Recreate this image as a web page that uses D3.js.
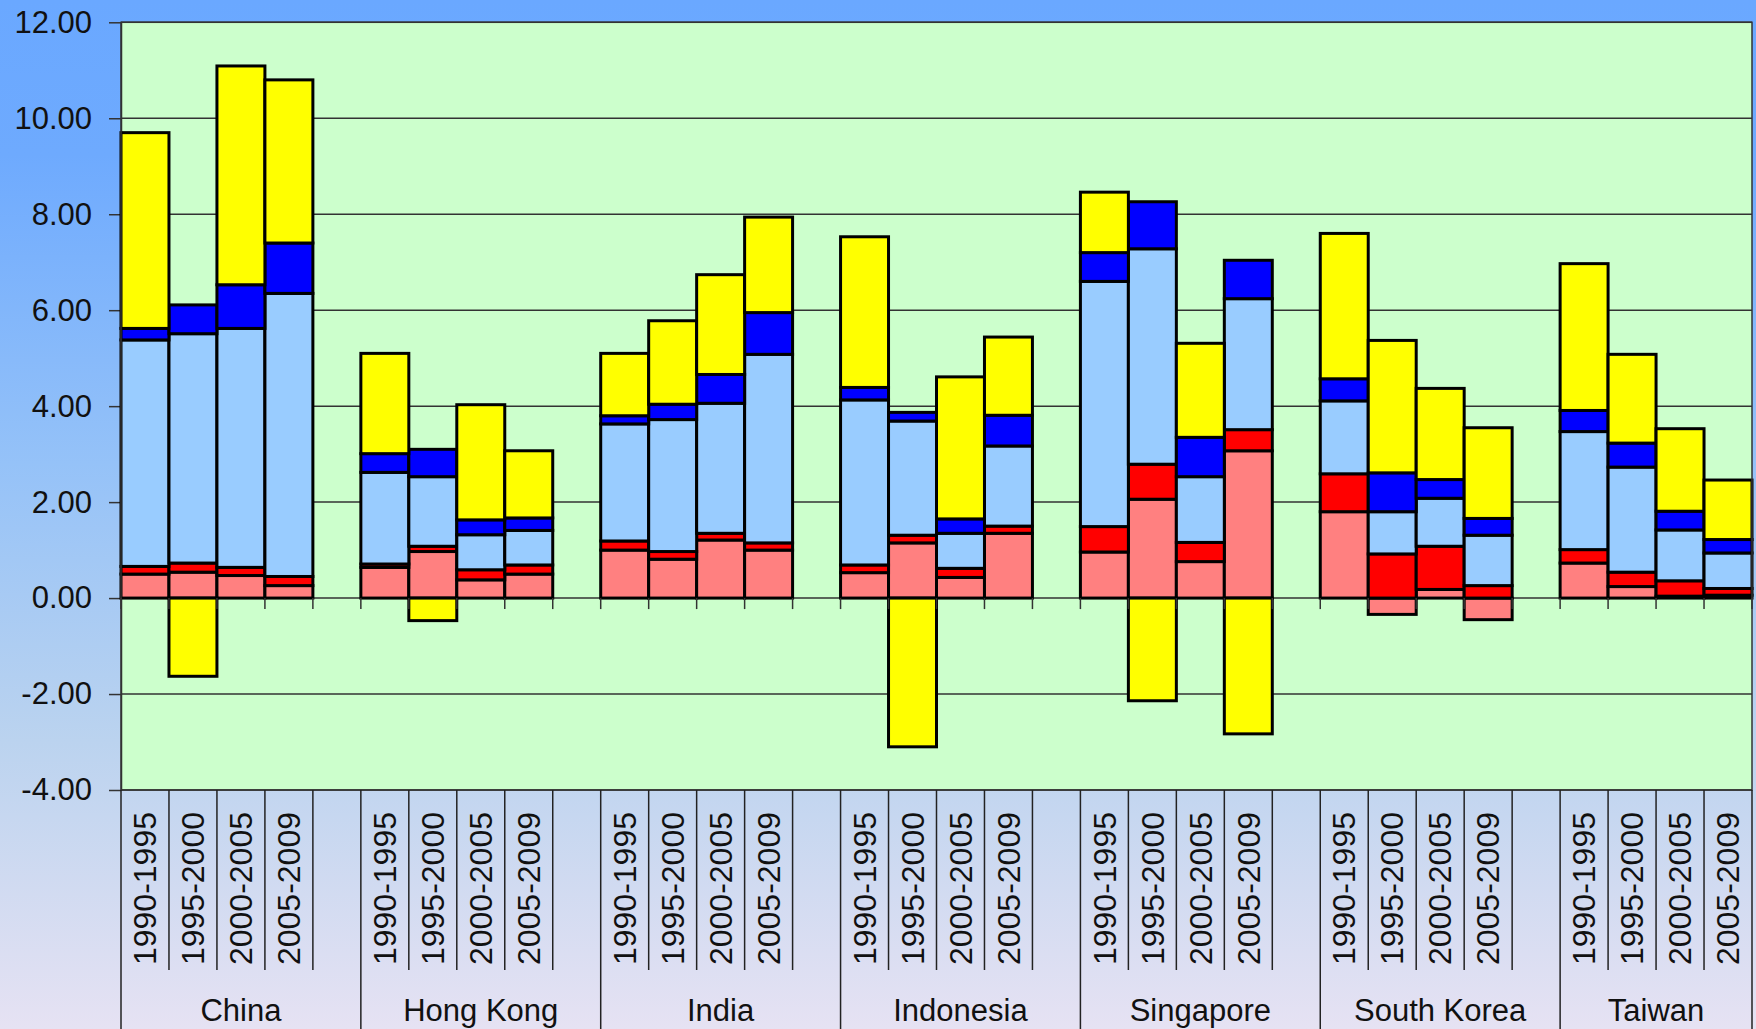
<!DOCTYPE html>
<html>
<head>
<meta charset="utf-8">
<script src="https://cdn.jsdelivr.net/npm/d3@7"></script>
<style>
  body { margin: 0; padding: 0; overflow: hidden; }
  svg { display: block; }
  text { font-family: "Liberation Sans", Arial, sans-serif; fill: #111; }
</style>
</head>
<body>
<div id="chart"></div>
<script>
// categories
var countries = ["China", "Hong Kong", "India", "Indonesia", "Singapore", "South Korea", "Taiwan"];
var periods = ["1990-1995", "1995-2000", "2000-2005", "2005-2009"];
var yTicks = [-4, -2, 0, 2, 4, 6, 8, 10, 12];

// series values, country by country, 4 periods each (stacked bottom to top)
var pinkValues = [
  0.50, 0.54, 0.47, 0.26,
  0.64, 0.97, 0.38, 0.50,
  1.00, 0.81, 1.21, 1.00,
  0.53, 1.15, 0.43, 1.35,
  0.96, 2.06, 0.76, 3.07,
  1.80, -0.34, 0.18, -0.45,
  0.73, 0.24, 0.04, 0.06
];
var redValues = [
  0.16, 0.19, 0.17, 0.19,
  0.07, 0.11, 0.21, 0.19,
  0.19, 0.16, 0.14, 0.15,
  0.16, 0.16, 0.19, 0.15,
  0.53, 0.73, 0.40, 0.44,
  0.79, 0.92, 0.90, 0.26,
  0.28, 0.30, 0.32, 0.14
];
var lightBlueValues = [
  4.72, 4.78, 4.98, 5.90,
  1.91, 1.45, 0.73, 0.72,
  2.44, 2.75, 2.71, 3.93,
  3.44, 2.38, 0.73, 1.67,
  5.11, 4.49, 1.37, 2.73,
  1.52, 0.88, 1.00, 1.05,
  2.46, 2.19, 1.06, 0.74
];
var blueValues = [
  0.24, 0.60, 0.91, 1.05,
  0.39, 0.57, 0.31, 0.26,
  0.17, 0.32, 0.60, 0.87,
  0.26, 0.18, 0.30, 0.64,
  0.60, 0.98, 0.82, 0.80,
  0.46, 0.81, 0.39, 0.35,
  0.44, 0.50, 0.39, 0.28
];
var yellowValues = [
  4.08, -1.63, 4.56, 3.40,
  2.09, -0.47, 2.40, 1.40,
  1.30, 1.74, 2.08, 1.99,
  3.14, -3.10, 2.96, 1.63,
  1.26, -2.14, 1.96, -2.83,
  3.03, 2.76, 1.90, 1.89,
  3.06, 1.85, 1.72, 1.24
];

var seriesKeys = ["pink", "red", "lightBlue", "blue", "yellow"];
var seriesColors = { pink: "#FF8080", red: "#FF0000", lightBlue: "#99CCFF", blue: "#0000FF", yellow: "#FFFF00" };
var seriesArrays = { pink: pinkValues, red: redValues, lightBlue: lightBlueValues, blue: blueValues, yellow: yellowValues };

var svgWidth = 1756, svgHeight = 1029;
var plot = { left: 121, right: 1752, top: 22.3, bottom: 790 };

var svg = d3.select("#chart").append("svg")
    .attr("width", svgWidth)
    .attr("height", svgHeight);

// background gradient
var defs = svg.append("defs");
var grad = defs.append("linearGradient")
    .attr("id", "bg").attr("x1", 0).attr("y1", 0).attr("x2", 0).attr("y2", 1);
grad.append("stop").attr("offset", "0%").attr("stop-color", "#6AA8FF");
grad.append("stop").attr("offset", "15%").attr("stop-color", "#6EAAFE");
grad.append("stop").attr("offset", "45%").attr("stop-color", "#95C2F8");
grad.append("stop").attr("offset", "72%").attr("stop-color", "#BBD3EF");
grad.append("stop").attr("offset", "100%").attr("stop-color", "#E6E2F3");

svg.append("rect")
    .attr("width", svgWidth).attr("height", svgHeight)
    .attr("fill", "url(#bg)");

// build rows and slot keys (a blank slot between countries)
var rows = [];
var slotKeys = [];
countries.forEach(function (c, ci) {
    periods.forEach(function (p, pi) {
        var row = { key: c + "|" + p, country: c, period: p };
        seriesKeys.forEach(function (s) { row[s] = seriesArrays[s][ci * 4 + pi]; });
        rows.push(row);
        slotKeys.push(row.key);
    });
    if (ci < countries.length - 1) slotKeys.push(c + "|gap");
});

var x = d3.scaleBand()
    .domain(slotKeys)
    .range([plot.left, plot.right])
    .padding(0);

var y = d3.scaleLinear()
    .domain([-4, 12])
    .range([plot.bottom, plot.top]);

// plot area
svg.append("rect")
    .attr("x", plot.left).attr("y", plot.top)
    .attr("width", plot.right - plot.left)
    .attr("height", plot.bottom - plot.top)
    .attr("fill", "#CCFFCC");

// gridlines
svg.append("g")
    .selectAll("line")
    .data(yTicks)
    .enter()
    .append("line")
    .attr("x1", plot.left).attr("x2", plot.right)
    .attr("y1", d => y(d)).attr("y2", d => y(d))
    .attr("stroke", "#333")
    .attr("stroke-width", 1.5);

// y axis (plain hyphen for negatives, like the original)
var fmt = d3.format(".2f");
var yAxis = d3.axisLeft(y)
    .tickValues(yTicks)
    .tickFormat(d => fmt(d).replace("\u2212", "-"))
    .tickSizeInner(12)
    .tickSizeOuter(0)
    .tickPadding(17);

var yAxisG = svg.append("g")
    .attr("transform", `translate(${plot.left},0)`)
    .call(yAxis);
yAxisG.select(".domain").attr("stroke", "#333").attr("stroke-width", 1.5);
yAxisG.selectAll(".tick line").attr("stroke", "#333").attr("stroke-width", 1.5);
yAxisG.selectAll(".tick text")
    .attr("font-size", "31px")
    .attr("font-family", "Liberation Sans, Arial, sans-serif")
    .attr("fill", "#111");

// stacked bars
var stack = d3.stack()
    .keys(seriesKeys)
    .offset(d3.stackOffsetDiverging);
var stacked = stack(rows);

svg.append("g")
    .selectAll("g")
    .data(stacked)
    .enter()
    .append("g")
    .attr("fill", d => seriesColors[d.key])
    .selectAll("rect")
    .data(d => d)
    .enter()
    .append("rect")
    .attr("x", d => x(d.data.key))
    .attr("width", x.bandwidth())
    .attr("y", d => y(Math.max(d[0], d[1])))
    .attr("height", d => Math.abs(y(d[0]) - y(d[1])))
    .attr("stroke", "#000")
    .attr("stroke-width", 3);

// zero axis tick marks at every slot boundary
var boundaries = slotKeys.map(k => x(k)).concat([plot.right]);
svg.append("g")
    .selectAll("line")
    .data(boundaries)
    .enter()
    .append("line")
    .attr("x1", d => d).attr("x2", d => d)
    .attr("y1", y(0)).attr("y2", y(0) + 11)
    .attr("stroke", "#333")
    .attr("stroke-width", 1.5);

// plot border
svg.append("rect")
    .attr("x", plot.left).attr("y", plot.top)
    .attr("width", plot.right - plot.left)
    .attr("height", plot.bottom - plot.top)
    .attr("fill", "none")
    .attr("stroke", "#333")
    .attr("stroke-width", 1.5);

// category area lines: short between periods, long between countries
svg.append("g")
    .selectAll("line")
    .data(boundaries)
    .enter()
    .append("line")
    .attr("x1", d => d).attr("x2", d => d)
    .attr("y1", plot.bottom)
    .attr("y2", (d, i) => (i % 5 === 0 || i === boundaries.length - 1) ? svgHeight : 970)
    .attr("stroke", "#222")
    .attr("stroke-width", 1.5);

// period labels
svg.append("g")
    .selectAll("text")
    .data(rows)
    .enter()
    .append("text")
    .attr("transform", d => `translate(${x(d.key) + x.bandwidth() / 2}, 812) rotate(-90)`)
    .attr("text-anchor", "end")
    .attr("dy", "0.35em")
    .attr("font-size", "32px")
    .text(d => d.period);

// country labels
svg.append("g")
    .selectAll("text")
    .data(countries)
    .enter()
    .append("text")
    .attr("x", function (c, ci) {
        var first = x(c + "|" + periods[0]);
        var last = ci < countries.length - 1 ? x(c + "|gap") + x.bandwidth() : plot.right;
        return (first + last) / 2;
    })
    .attr("y", 1021)
    .attr("text-anchor", "middle")
    .attr("font-size", "31px")
    .text(d => d);
</script>
</body>
</html>
